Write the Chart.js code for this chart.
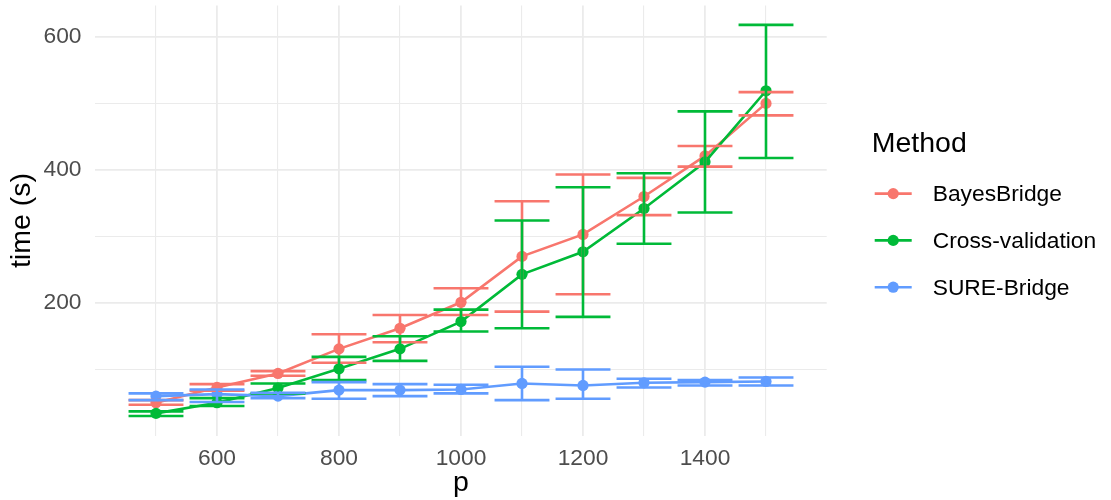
<!DOCTYPE html>
<html>
<head>
<meta charset="utf-8">
<title>time vs p</title>
<script src="https://cdn.jsdelivr.net/npm/chart.js@4/dist/chart.umd.min.js"></script>
<style>
    html, body { margin: 0; padding: 0; background: #ffffff; }
</style>
</head>
<body>
<canvas id="time-canvas" width="1111" height="500"></canvas>
<script>
const pValues = [500, 600, 700, 800, 900, 1000, 1100, 1200, 1300, 1400, 1500];

const bayesMean = [50, 73, 94, 131, 162, 201, 270, 303, 360, 421, 500];
const bayesLow  = [47, 68, 90.5, 110, 141, 182, 187, 213, 332, 405, 482];
const bayesHigh = [54, 78, 97.5, 153, 182, 222, 353, 393, 388, 436, 517];

const cvMean = [34, 50, 72, 101, 131, 172, 243, 277, 342, 412, 519];
const cvLow  = [30, 45, 64, 84, 113, 157, 162, 179, 289, 336, 418];
const cvHigh = [37, 57, 79, 119, 150, 190, 324, 374, 395, 488, 618];

const sureMean = [60, 63, 60, 69, 69, 70, 79, 76, 80, 81, 82];
const sureLow  = [54, 51, 57, 56, 60, 64, 54, 56, 73, 76, 76];
const sureHigh = [64, 70, 65, 81, 78, 77, 104, 100, 86, 84, 88];

const methodNames = ["BayesBridge", "Cross-validation", "SURE-Bridge"];
const xTicks = [500, 600, 700, 800, 900, 1000, 1100, 1200, 1300, 1400, 1500];
const yTicks = [100, 200, 300, 400, 500, 600];

const colors = ['#F8766D', '#00BA38', '#619CFF'];
const FONT = "'Liberation Sans', Arial, sans-serif";
const ERR_HALF = 45; // half width of the error bar caps, in p units

function makeSeries(i, mean, low, high) {
    return {
        label: methodNames[i],
        data: pValues.map((p, k) => ({ x: p, y: mean[k] })),
        errLow: low,
        errHigh: high,
        borderColor: colors[i],
        backgroundColor: colors[i],
        borderWidth: 2.6,
        pointRadius: 5.6,
        pointHoverRadius: 5.6,
        pointBorderWidth: 0,
        pointBackgroundColor: colors[i],
        tension: 0,
        order: 2 - i
    };
}

// error bars, drawn through the chart scales
const errorBars = {
    id: 'errorBars',
    afterDatasetsDraw(chart) {
        const { ctx, scales: { x, y } } = chart;
        ctx.save();
        chart.data.datasets.forEach(ds => {
            ctx.strokeStyle = ds.borderColor;
            ctx.lineWidth = 2.6;
            ds.data.forEach((pt, k) => {
                const px = x.getPixelForValue(pt.x);
                const x0 = x.getPixelForValue(pt.x - ERR_HALF);
                const x1 = x.getPixelForValue(pt.x + ERR_HALF);
                const yLo = y.getPixelForValue(ds.errLow[k]);
                const yHi = y.getPixelForValue(ds.errHigh[k]);
                ctx.beginPath();
                ctx.moveTo(px, yLo); ctx.lineTo(px, yHi);
                ctx.moveTo(x0, yLo); ctx.lineTo(x1, yLo);
                ctx.moveTo(x0, yHi); ctx.lineTo(x1, yHi);
                ctx.stroke();
            });
        });
        ctx.restore();
    }
};

// ggplot style legend on the right
const sideLegend = {
    id: 'sideLegend',
    afterDraw(chart) {
        const { ctx, chartArea } = chart;
        const left = chartArea.right + 45;
        const midY = (chartArea.top + chartArea.bottom) / 2;
        ctx.save();
        ctx.fillStyle = '#000000';
        ctx.textBaseline = 'middle';
        ctx.textAlign = 'left';
        ctx.font = "28.5px " + FONT;
        ctx.fillText('Method', left, midY - 76);
        ctx.font = "22.8px " + FONT;
        chart.data.datasets.forEach((ds, i) => {
            const yy = midY - 27 + i * 46.8;
            ctx.strokeStyle = ds.borderColor;
            ctx.lineWidth = 2.6;
            ctx.beginPath();
            ctx.moveTo(left + 3, yy);
            ctx.lineTo(left + 40, yy);
            ctx.stroke();
            ctx.fillStyle = ds.borderColor;
            ctx.beginPath();
            ctx.arc(left + 21.5, yy, 5.6, 0, Math.PI * 2);
            ctx.fill();
            ctx.fillStyle = '#000000';
            ctx.fillText(ds.label, left + 61, yy + 1.5);
        });
        ctx.restore();
    }
};

document.addEventListener("DOMContentLoaded", () => {
    const ctx = document.getElementById('time-canvas').getContext('2d');

    new Chart(ctx, {
        type: 'line',
        data: {
            datasets: [
                makeSeries(0, bayesMean, bayesLow, bayesHigh),
                makeSeries(1, cvMean, cvLow, cvHigh),
                makeSeries(2, sureMean, sureLow, sureHigh)
            ]
        },
        options: {
            responsive: false,
            animation: false,
            layout: {
                padding: { top: 2.6, right: 284.3, bottom: 0, left: 0 }
            },
            scales: {
                x: {
                    type: 'linear',
                    min: 400.5,
                    max: 1599.5,
                    afterBuildTicks: scale => { scale.ticks = xTicks.map(v => ({ value: v })); },
                    afterFit: scale => {
                        scale.height = 500 - 435.6;
                        scale.paddingLeft = 0;
                        scale.paddingRight = 0;
                    },
                    border: { display: false },
                    grid: {
                        color: '#EBEBEB',
                        lineWidth: c => (c.tick && c.tick.value % 200 === 0) ? 1.8 : 1.1,
                        drawTicks: false
                    },
                    ticks: {
                        autoSkip: false,
                        maxRotation: 0,
                        padding: 9,
                        color: '#4D4D4D',
                        font: { family: FONT, size: 22.8 },
                        callback: v => (v % 200 === 0 ? String(v) : '')
                    },
                    title: {
                        display: true,
                        text: 'p',
                        color: '#000000',
                        font: { family: FONT, size: 28.5 },
                        padding: { top: 0, bottom: 0 }
                    }
                },
                y: {
                    type: 'linear',
                    min: 0.6,
                    max: 647,
                    afterBuildTicks: scale => { scale.ticks = yTicks.map(v => ({ value: v })); },
                    afterFit: scale => {
                        scale.width = 95.3;
                        scale.paddingTop = 0;
                        scale.paddingBottom = 0;
                    },
                    border: { display: false },
                    grid: {
                        color: '#EBEBEB',
                        lineWidth: c => (c.tick && c.tick.value % 200 === 0) ? 1.8 : 1.1,
                        drawTicks: false
                    },
                    ticks: {
                        padding: 13.8,
                        color: '#4D4D4D',
                        font: { family: FONT, size: 22.8 },
                        callback: v => (v % 200 === 0 ? String(v) : '')
                    },
                    title: {
                        display: true,
                        text: 'time (s)',
                        color: '#000000',
                        font: { family: FONT, size: 28.5 },
                        padding: { top: 4.6, bottom: 0 }
                    }
                }
            },
            plugins: {
                legend: { display: false },
                tooltip: { enabled: false }
            }
        },
        plugins: [errorBars, sideLegend]
    });
});
</script>
</body>
</html>
